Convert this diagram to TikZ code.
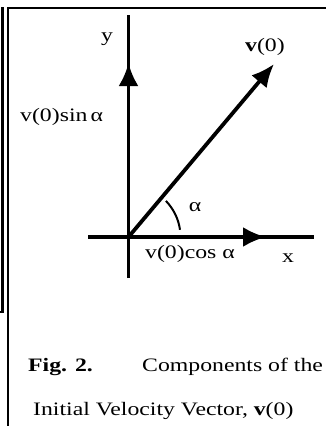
\documentclass[tikz,border=0pt]{standalone}
\usepackage{fontspec}
\setmainfont[FakeStretch=1.25]{Liberation Serif}
\usetikzlibrary{arrows.meta}
\tikzset{
  frame/.style={line width=2.2pt},
  axis/.style={line width=3.8pt},
  vec/.style={line width=3.8pt},
  tip/.style={-{Latex[length=23pt,width=20pt]}},
  lbl/.style={inner sep=0pt, font=\fontsize{19}{22}\selectfont},
  fig/.style={inner sep=0pt, font=\fontsize{19}{22}\selectfont\bfseries},
}
\begin{document}
\begin{tikzpicture}[x=1pt,y=-1pt]
\useasboundingbox (0,0) rectangle (326,426);
% frame
\draw[frame] (0,312) -- (2.5,312) -- (2.5,7);
\draw[frame] (8.3,426) -- (8.3,8) -- (326,8);
% coordinates
\coordinate (O) at (128.5,237);
\coordinate (ytop) at (128.5,15);
\coordinate (ybot) at (128.5,278);
\coordinate (xleft) at (88,237);
\coordinate (xright) at (314,237);
\coordinate (ytip) at (128.5,63);
\coordinate (xtip) at (266,237);
\coordinate (vtip) at (274,64);
\coordinate (arcA) at (165.9,200.9);
\coordinate (arcB) at (180,229.8);
% axes
\draw[axis] (ybot) -- (ytop);
\draw[axis] (xleft) -- (xright);
\draw[axis,tip] (O) -- (ytip);
\draw[axis,tip] (O) -- (xtip);
% vector
\draw[vec,tip] (O) -- (vtip);
% angle arc
\draw[line width=2pt] (arcA) .. controls (173.5,208.8) and (178.5,218.9) .. (arcB);
% labels
\node[lbl,anchor=base] (ylab) at (107,41) {y};
\node[lbl,anchor=base west] (vsin) at (20,121) {v(0)sin\,α};
\node[lbl,anchor=base west] (vlab) at (245,51) {\textbf{v}(0)};
\node[lbl,anchor=base west] (vcos) at (145,258) {v(0)cos α};
\node[lbl,anchor=base] (xlab) at (288,262) {x};
\node[lbl,anchor=base] (alab) at (195,211) {α};
\node[fig,anchor=base west] (figl) at (28,371) {Fig. 2.};
\node[lbl,anchor=base west] (cap1) at (142,371) {Components of the};
\node[lbl,anchor=base west] (cap2) at (33,415) {Initial Velocity Vector, \textbf{v}(0)};
\end{tikzpicture}
\end{document}
